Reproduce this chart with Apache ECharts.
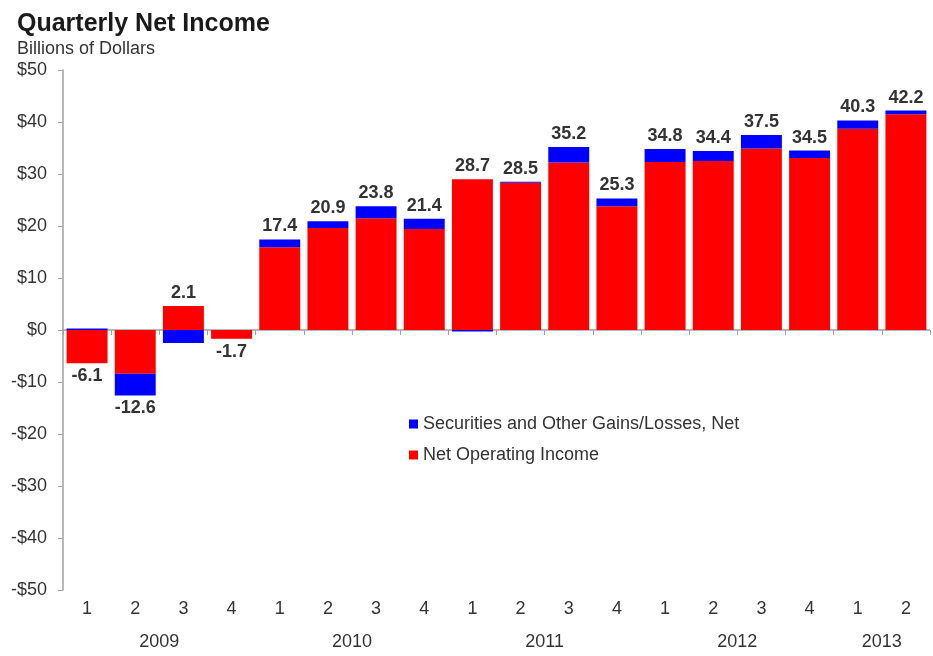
<!DOCTYPE html>
<html>
<head>
<meta charset="utf-8">
<title>Quarterly Net Income</title>
<script src="https://cdn.jsdelivr.net/npm/echarts@6/dist/echarts.min.js"></script>
<style>
  html, body { margin: 0; padding: 0; background: #ffffff; }
  #chart { width: 933px; height: 656px; }
</style>
</head>
<body>
<div id="chart"></div>
<script>
// Quarter labels along the bottom, grouped by year
const quarters = ['1','2','3','4','1','2','3','4','1','2','3','4','1','2','3','4','1','2'];
const years = ['2009','2010','2011','2012','2013'];
const quartersPerYear = [4, 4, 4, 4, 2];

// Net income per quarter (billions of dollars) — the value printed on each bar
const netIncome = [-6.1, -12.6, 2.1, -1.7, 17.4, 20.9, 23.8, 21.4, 28.7, 28.5, 35.2, 25.3, 34.8, 34.4, 37.5, 34.5, 40.3, 42.2];
// Securities and other gains/losses, net
const securitiesGains = [0.3, -4.2, -2.5, 0, 1.5, 1.3, 2.3, 2.0, -0.3, 0.2, 3.0, 1.5, 2.5, 1.9, 2.6, 1.4, 1.6, 0.7];
// Net operating income = net income minus securities gains/losses
const operatingIncome = netIncome.map((v, i) => Math.round((v - securitiesGains[i]) * 10) / 10);

const yTicks = { min: -50, max: 50, step: 10 };

// Centre of each year's run of quarters, on a 0..n scale
const yearCenters = [];
let start = 0;
quartersPerYear.forEach(n => { yearCenters.push(start + n / 2); start += n; });

const FONT = 'Liberation Sans, Arial, sans-serif';
const labelFont = { fontFamily: FONT, fontSize: 18, color: '#333333' };
const valueLabel = {
  show: true, fontFamily: FONT, fontSize: 18,
  fontWeight: 'bold', color: '#333333', distance: 4
};

// The total is printed on whichever segment sits furthest out on the side of its sign
function itemsFor(values, isOperating) {
  return values.map((v, i) => {
    const net = netIncome[i];
    const sec = securitiesGains[i];
    let outer;
    if (net >= 0) outer = isOperating ? !(sec > 0) : sec > 0;
    else outer = isOperating ? !(sec < 0) : sec < 0;
    const item = { value: v };
    if (outer) {
      item.label = Object.assign({}, valueLabel, {
        position: net >= 0 ? 'top' : 'bottom',
        formatter: () => net.toFixed(1)
      });
    }
    return item;
  });
}

const chart = echarts.init(document.getElementById('chart'), null, { renderer: 'canvas' });

chart.setOption({
  animation: false,
  backgroundColor: '#ffffff',
  title: {
    text: 'Quarterly Net Income',
    subtext: 'Billions of Dollars',
    left: 12,
    top: 7,
    itemGap: 3,
    textStyle: { fontFamily: FONT, fontSize: 25, fontWeight: 'bold', color: '#1a1a1a' },
    subtextStyle: { fontFamily: FONT, fontSize: 18, color: '#333333' }
  },
  legend: {
    orient: 'vertical',
    left: 404,
    top: 410,
    itemGap: 13,
    itemWidth: 9,
    itemHeight: 9,
    icon: 'rect',
    data: ['Securities and Other Gains/Losses, Net', 'Net Operating Income'],
    textStyle: labelFont
  },
  grid: { left: 63, right: 0, top: 70, bottom: 66, containLabel: false },
  xAxis: [
    {
      // zero line with quarter separators
      type: 'category',
      data: quarters,
      position: 'bottom',
      axisLine: { onZero: true, lineStyle: { color: '#a0a0a0', width: 1.5 } },
      axisTick: { show: true, alignWithLabel: false, length: 5, lineStyle: { color: '#a0a0a0' } },
      axisLabel: { show: false }
    },
    {
      // quarter labels at the foot of the plot
      type: 'category',
      data: quarters,
      position: 'bottom',
      axisLine: { show: false, onZero: false },
      axisTick: { show: false },
      axisLabel: Object.assign({ margin: 10, interval: 0 }, labelFont)
    },
    {
      // year labels centred under each group of quarters
      type: 'value',
      min: 0,
      max: quarters.length,
      interval: 1,
      position: 'bottom',
      axisLine: { show: false, onZero: false },
      axisTick: { show: false },
      splitLine: { show: false },
      axisLabel: Object.assign({
        margin: 43,
        showMinLabel: true,
        showMaxLabel: true,
        formatter: v => {
          const k = yearCenters.indexOf(v);
          return k >= 0 ? years[k] : '';
        }
      }, labelFont)
    }
  ],
  yAxis: {
    type: 'value',
    min: yTicks.min,
    max: yTicks.max,
    interval: yTicks.step,
    axisLine: { show: true, lineStyle: { color: '#a0a0a0', width: 1.5 } },
    axisTick: { show: true, length: 5, lineStyle: { color: '#a0a0a0' } },
    splitLine: { show: false },
    axisLabel: Object.assign({
      margin: 16,
      formatter: v => (v < 0 ? '-' : '') + '$' + Math.abs(v)
    }, labelFont)
  },
  series: [
    {
      name: 'Net Operating Income',
      type: 'bar',
      stack: 'income',
      xAxisIndex: 0,
      barCategoryGap: '15%',
      itemStyle: { color: '#ff0000' },
      data: itemsFor(operatingIncome, true)
    },
    {
      name: 'Securities and Other Gains/Losses, Net',
      type: 'bar',
      stack: 'income',
      xAxisIndex: 0,
      barCategoryGap: '15%',
      itemStyle: { color: '#0000ff' },
      data: itemsFor(securitiesGains, false)
    }
  ]
});
</script>
</body>
</html>
